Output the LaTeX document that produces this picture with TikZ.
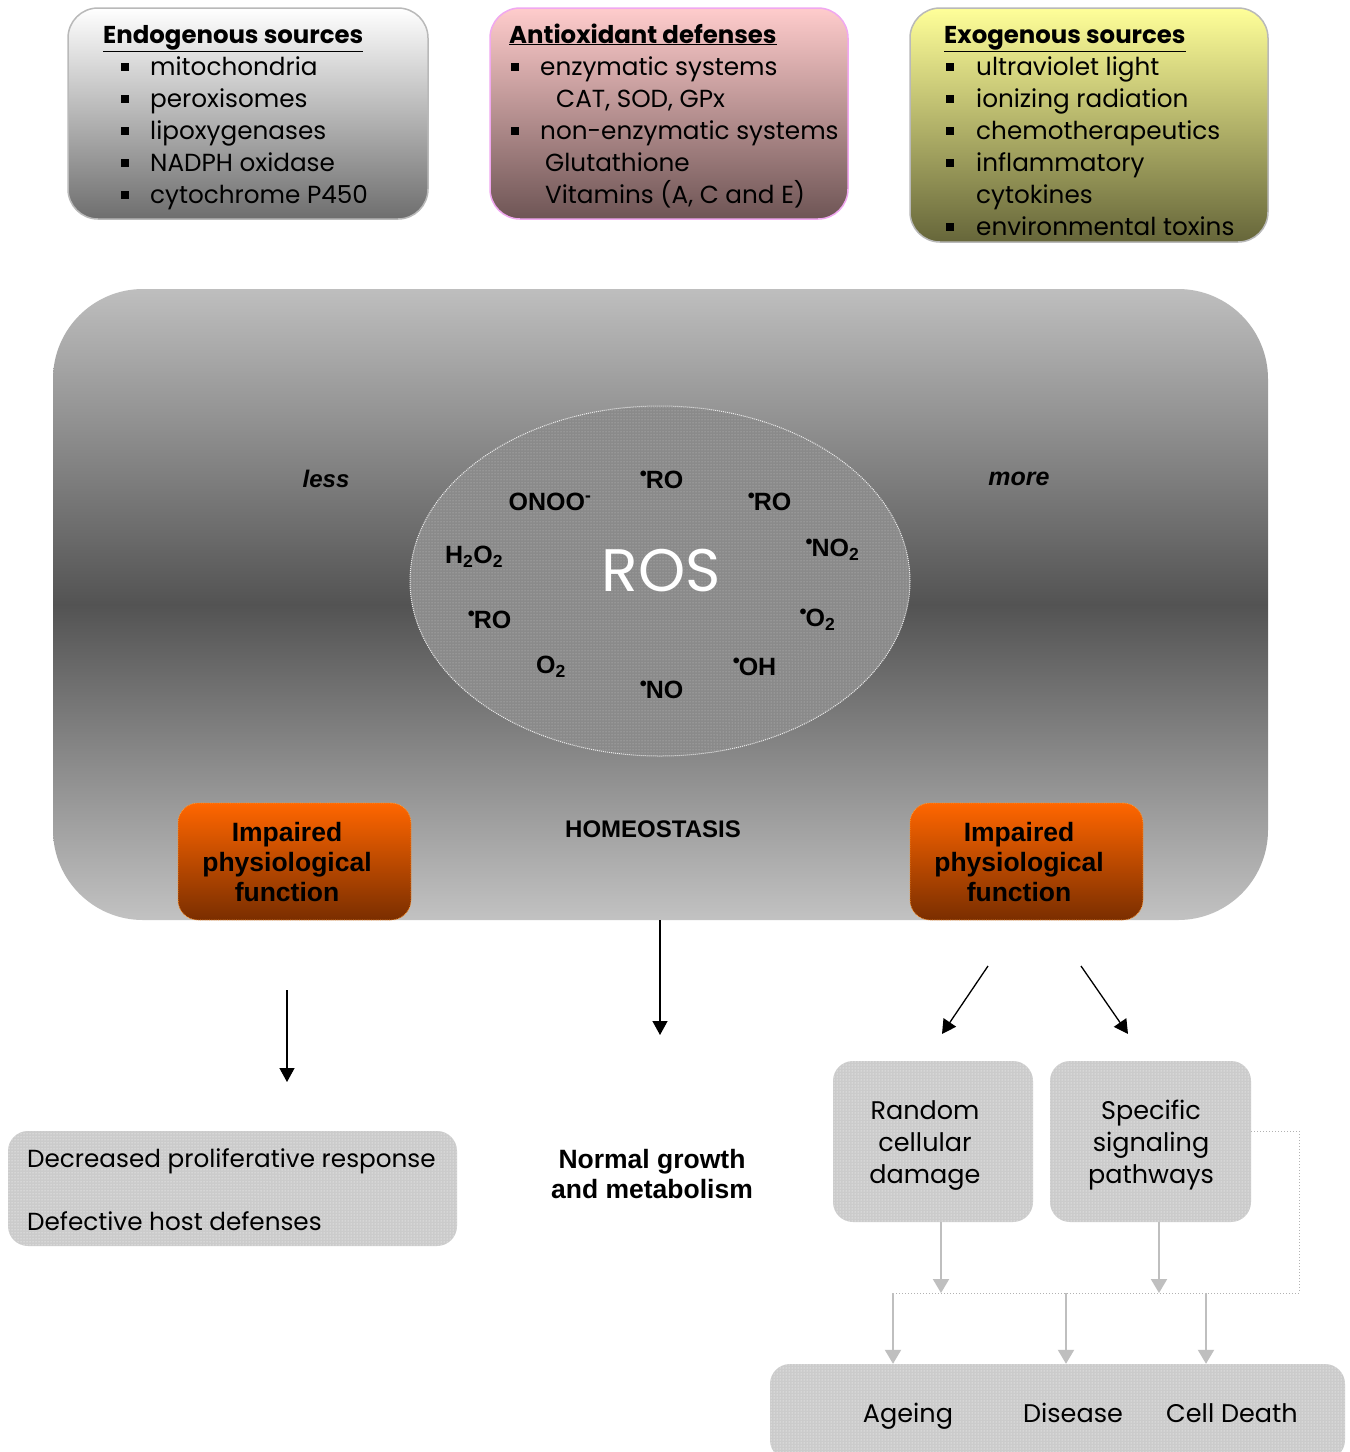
\documentclass[tikz,border=0pt]{standalone}
\usepackage{fontspec}
\setmainfont{Poppins}
\newfontfamily\arial{Liberation Sans}
\usetikzlibrary{patterns,arrows.meta,shapes.geometric}
\definecolor{endtop}{HTML}{FFFFFF}
\definecolor{endbot}{HTML}{6E6E6E}
\definecolor{antitop}{HTML}{FFCCCC}
\definecolor{antibot}{HTML}{6E5555}
\definecolor{exotop}{HTML}{FFFF99}
\definecolor{exobot}{HTML}{66663A}
\definecolor{bigtop}{HTML}{BEBEBE}
\definecolor{bigmid}{HTML}{535353}
\definecolor{bigbot}{HTML}{C2C2C2}
\definecolor{imptop}{HTML}{FF6600}
\definecolor{impbot}{HTML}{7A2E00}
\definecolor{dotgray}{HTML}{CBCBCB}
\definecolor{ellgray}{HTML}{8A8A8A}
\definecolor{arrgray}{HTML}{BFBFBF}
\definecolor{pinkline}{HTML}{F0A8F0}
\newcommand\myfs[2]{\fontsize{#1}{#2}\selectfont}
\newcommand\sqb{\rule[4pt]{8pt}{8pt}}
\newcommand\radd{\kern-1pt\raisebox{8pt}{\myfs{20}{20}•}\kern-1pt}
\begin{document}
\begin{tikzpicture}[x=1pt,y=-1pt,
  srcbox/.style={rounded corners=30pt, line width=1.5pt, inner sep=0pt},
  listtxt/.style={anchor=base west, inner sep=0pt, font=\myfs{24.7}{32}},
  headtxt/.style={anchor=base west, inner sep=0pt, font=\bfseries\myfs{24.4}{32}},
  dotbox/.style={rounded corners=20pt, preaction={fill=dotgray}, pattern=dots, pattern color=white, inner sep=0pt},
  impbox/.style={rounded corners=20pt, top color=imptop, bottom color=impbot, draw=orange!80, densely dotted, line width=0.8pt, minimum width=233pt, minimum height=117pt, inner sep=0pt},
  boldtxt/.style={font=\arial\bfseries\myfs{26.5}{30}, align=center, inner sep=0pt, text=black, solid},
  rostxt/.style={font=\arial\bfseries\myfs{25}{25}, inner sep=0pt},
  plaintxt/.style={font=\myfs{25.5}{32}, align=center, inner sep=0pt},
  blkarrow/.style={-{Triangle[length=14pt,width=15pt]}, line width=1.3pt},
  grayarrow/.style={-{Triangle[length=14pt,width=16pt]}, line width=2pt, draw=arrgray}]
\path[use as bounding box, fill=white] (0,0) rectangle (1350,1452);

% ---- top source boxes
\node[srcbox, top color=endtop, bottom color=endbot, draw=gray!55, minimum width=360pt, minimum height=211pt] (endo) at (248,113.5) {};
\node[srcbox, top color=antitop, bottom color=antibot, draw=pinkline, minimum width=358pt, minimum height=211pt] (anti) at (669,113.5) {};
\node[srcbox, top color=exotop, bottom color=exobot, draw=gray!55, minimum width=358pt, minimum height=234pt] (exo) at (1089,125) {};

\node[headtxt] (endh) at (103,43) {\underline{Endogenous sources}};
\foreach \t [count=\i, evaluate=\i as \yy using 43+32*\i] in {mitochondria, peroxisomes, lipoxygenases, NADPH oxidase, cytochrome P450}
  \node[listtxt] (en\i) at (121,\yy) {\makebox[29pt][l]{\sqb}\t};

\node[headtxt] (antih) at (509,43) {\underline{Antioxidant defenses}};
\node[listtxt] (an1) at (511,75) {\makebox[29pt][l]{\sqb}enzymatic systems};
\node[listtxt] (an2) at (556,107) {CAT, SOD, GPx};
\node[listtxt] (an3) at (511,139) {\makebox[29pt][l]{\sqb}non-enzymatic systems};
\node[listtxt] (an4) at (545,171) {Glutathione};
\node[listtxt] (an5) at (545,203) {Vitamins (A, C and E)};

\node[headtxt] (exoh) at (944,43) {\underline{Exogenous sources}};
\node[listtxt] (ex1) at (946,75) {\makebox[30pt][l]{\sqb}ultraviolet light};
\node[listtxt] (ex2) at (946,107) {\makebox[30pt][l]{\sqb}ionizing radiation};
\node[listtxt] (ex3) at (946,139) {\makebox[30pt][l]{\sqb}chemotherapeutics};
\node[listtxt] (ex4) at (946,171) {\makebox[30pt][l]{\sqb}inflammatory};
\node[listtxt] (ex5) at (976,203) {cytokines};
\node[listtxt] (ex6) at (946,235) {\makebox[30pt][l]{\sqb}environmental toxins};

% ---- big homeostasis box
\node[rounded corners=90pt, top color=bigtop, bottom color=bigbot, middle color=bigmid, minimum width=1215pt, minimum height=631pt, inner sep=0pt] (home) at (660.5,604.5) {};

\node[font=\arial\bfseries\itshape\myfs{24}{24}, inner sep=0pt] (less) at (326,479) {less};
\node[font=\arial\bfseries\itshape\myfs{25}{25}, inner sep=0pt] (more) at (1019,479) {more};

% ---- ROS ellipse
\node[ellipse, minimum width=500pt, minimum height=350pt, preaction={fill=ellgray}, pattern=dots, pattern color=gray!45, draw=white!85!gray, densely dotted, line width=1pt] (ros) at (660,581) {};
\node[text=white, font=\myfs{60}{60}, inner sep=0pt] (rostitle) at (661,571) {ROS};
\node[rostxt] (r1) at (662,480) {\radd RO};
\node[rostxt] (r2) at (550,502) {ONOO\textsuperscript{-}};
\node[rostxt] (r3) at (770,502) {\radd RO};
\node[rostxt] (r4) at (474,557) {H\textsubscript{2}O\textsubscript{2}};
\node[rostxt] (r5) at (833,550) {\radd NO\textsubscript{2}};
\node[rostxt] (r6) at (490,620) {\radd RO};
\node[rostxt] (r7) at (818,620) {\radd O\textsubscript{2}};
\node[rostxt] (r8) at (551,667) {O\textsubscript{2}};
\node[rostxt] (r9) at (755,667) {\radd OH};
\node[rostxt] (r10) at (662,690) {\radd NO};

% ---- impaired boxes and homeostasis
\node[impbox] (impL) at (294.5,861.5) {};
\node[boldtxt] (impLt) at (287,862) {Impaired\\physiological\\function};
\node[impbox] (impR) at (1026.5,861.5) {};
\node[boldtxt] (impRt) at (1019,862) {Impaired\\physiological\\function};
\node[font=\arial\bfseries\myfs{24}{24}, inner sep=0pt] (homeo) at (653,829) {HOMEOSTASIS};

% ---- black arrows
\coordinate (aL1) at (287,990);
\coordinate (aL2) at (287,1082);
\coordinate (aM2) at (660,1035);
\coordinate (aR1) at (988,966);
\coordinate (aR2) at (942,1034);
\coordinate (aS1) at (1081,966);
\coordinate (aS2) at (1128,1034);
\draw[blkarrow] (aL1) -- (aL2);
\draw[blkarrow] (home.south -| aM2) -- (aM2);
\draw[blkarrow] (aR1) -- (aR2);
\draw[blkarrow] (aS1) -- (aS2);

% ---- lower boxes
\node[dotbox, minimum width=449pt, minimum height=115pt] (dec) at (232.5,1188.5) {};
\node[listtxt] (dec1) at (27,1167) {Decreased proliferative response};
\node[listtxt] (dec2) at (27,1230) {Defective host defenses};

\node[font=\arial\bfseries\myfs{26.5}{30}, align=center, inner sep=0pt] (norm) at (652,1174) {Normal growth\\and metabolism};

\node[dotbox, minimum width=200pt, minimum height=161pt] (rand) at (933,1141.5) {};
\node[plaintxt] (randt) at (925,1145) {Random\\cellular\\damage};
\node[dotbox, minimum width=201pt, minimum height=161pt] (spec) at (1150.5,1141.5) {};
\node[plaintxt] (spect) at (1151,1145) {Specific\\signaling\\pathways};

\node[dotbox, minimum width=575pt, minimum height=96pt] (outc) at (1057.5,1412) {};
\node[plaintxt, anchor=base] (age) at (908,1422) {Ageing};
\node[plaintxt, anchor=base] (dis) at (1073,1422) {Disease};
\node[plaintxt, anchor=base] (death) at (1232,1422) {Cell Death};

% ---- gray connectors
\coordinate (j0) at (893,1293);
\coordinate (j1) at (941,1293);
\coordinate (j2) at (1066,1293);
\coordinate (j3) at (1159,1293);
\coordinate (j4) at (1206,1293);
\coordinate (d1) at (1299,1131);
\coordinate (d2) at (1299,1293);
\draw[gray!60, dotted, line width=1pt] ([yshift=10.5pt]spec.east) -- (d1) -- (d2) -- (j0);
\draw[grayarrow] (j1 |- rand.south) -- (j1);
\draw[grayarrow] (j3 |- spec.south) -- (j3);
\draw[grayarrow] (j0) -- (j0 |- outc.north);
\draw[grayarrow] (j2) -- (j2 |- outc.north);
\draw[grayarrow] (j4) -- (j4 |- outc.north);
\end{tikzpicture}
\end{document}
